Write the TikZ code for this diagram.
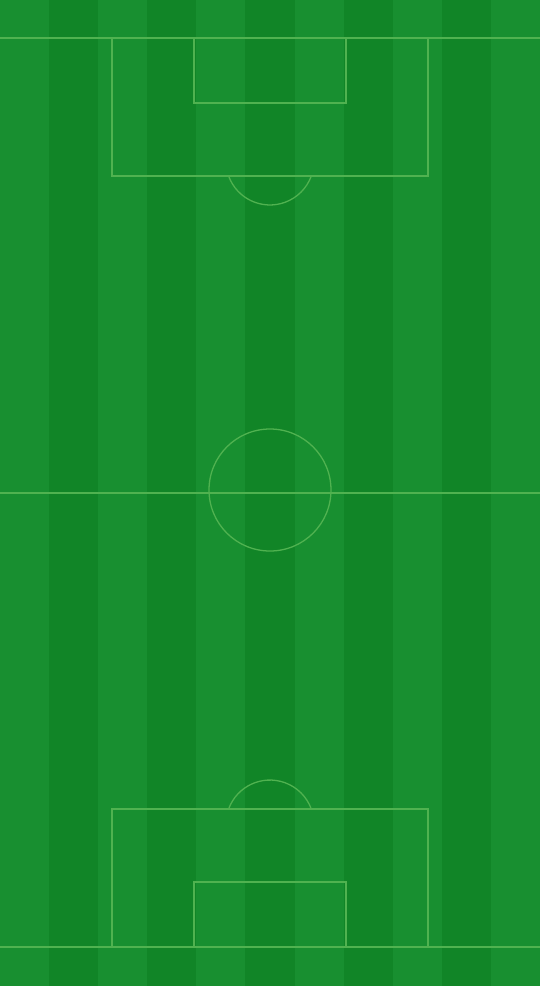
\documentclass[tikz,border=0pt]{standalone}
\definecolor{grasslight}{RGB}{24,143,48}
\definecolor{grassdark}{RGB}{17,133,39}
\definecolor{chalk}{RGB}{80,178,80}
\tikzset{pitchline/.style={draw=chalk, line width=1.3pt}}
\begin{document}
\begin{tikzpicture}[x=1pt, y=-1pt]
\useasboundingbox (0,0) rectangle (540,986);
\fill[grasslight] (0,0) rectangle (540,986);
\foreach \i in {1,3,5,7,9}
  \fill[grassdark] ({\i*540/11},0) rectangle ({(\i+1)*540/11},986);

\draw[pitchline] (0,38) -- (540,38);
\draw[pitchline] (0,947) -- (540,947);
\draw[pitchline] (0,493) -- (540,493);
\draw[pitchline] (270,490) circle (61);

\draw[pitchline] (112,38) rectangle (428,176);
\draw[pitchline] (194,38) rectangle (346,103);
\draw[pitchline] (228.6,176) arc[start angle=160, end angle=20, radius=44];

\draw[pitchline] (112,947) rectangle (428,809);
\draw[pitchline] (194,947) rectangle (346,882);
\draw[pitchline] (228.6,809) arc[start angle=200, end angle=340, radius=44];
\end{tikzpicture}
\end{document}
